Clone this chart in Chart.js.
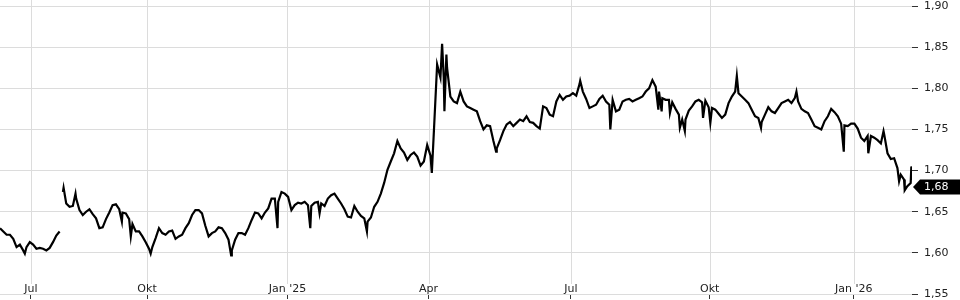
<!DOCTYPE html>
<html>
<head>
<meta charset="utf-8">
<script src="https://cdn.jsdelivr.net/npm/chart.js@4"></script>
<style>
  html, body { margin: 0; padding: 0; background: #fff; }
  #wrap { width: 960px; height: 300px; position: relative; }
</style>
</head>
<body>
<div id="wrap"><canvas id="priceChart"></canvas></div>
<script>
// price samples, evenly spaced in time (index units)
const values = [
  1.630, 1.626, 1.622, 1.622, 1.617, 1.607, 1.610, 1.603, 1.607, 1.613,
  1.610, 1.605, 1.606, 1.605, 1.603, 1.606, 1.613, 1.621, 1.626, 1.674,
  1.660, 1.656, 1.657, 1.666, 1.652, 1.646, 1.650, 1.653, 1.647, 1.642,
  1.630, 1.631, 1.641, 1.649, 1.658, 1.659, 1.653, 1.649, 1.648, 1.641,
  1.635, 1.626, 1.626, 1.620, 1.613, 1.605, 1.607, 1.618,
  1.630, 1.624, 1.622, 1.626, 1.627, 1.617, 1.620, 1.622, 1.630, 1.636,
  1.646, 1.652, 1.652, 1.648, 1.633, 1.620, 1.624, 1.626, 1.631, 1.630,
  1.624, 1.616, 1.603, 1.616, 1.624, 1.624, 1.622, 1.630, 1.640, 1.649,
  1.648, 1.642, 1.649, 1.654, 1.666, 1.666, 1.662, 1.674, 1.672, 1.668,
  1.652, 1.658, 1.661, 1.660, 1.662, 1.658, 1.657, 1.661,
  1.662, 1.660, 1.657, 1.666, 1.670, 1.672, 1.666, 1.660, 1.653, 1.644,
  1.643, 1.657, 1.650, 1.645, 1.642, 1.638, 1.643, 1.656, 1.662, 1.672,
  1.685, 1.701, 1.711, 1.721, 1.736, 1.727, 1.722, 1.713, 1.719, 1.722,
  1.717, 1.706, 1.711, 1.731, 1.718, 1.746, 1.829, 1.813, 1.813, 1.825,
  1.790, 1.784, 1.782, 1.796, 1.784, 1.778, 1.776, 1.774,
  1.772, 1.760, 1.750, 1.755, 1.754, 1.736, 1.727, 1.737, 1.748, 1.756,
  1.759, 1.754, 1.758, 1.762, 1.760, 1.766, 1.759, 1.758, 1.754, 1.751,
  1.778, 1.776, 1.768, 1.766, 1.784, 1.792, 1.786, 1.790, 1.791, 1.794,
  1.791, 1.805, 1.796, 1.787, 1.776, 1.778, 1.780, 1.787, 1.791, 1.784,
  1.780, 1.786, 1.772, 1.774, 1.784, 1.786, 1.787, 1.784,
  1.786, 1.788, 1.790, 1.796, 1.800, 1.810, 1.802, 1.796, 1.788, 1.786,
  1.786, 1.783, 1.775, 1.768, 1.762, 1.762, 1.773, 1.778, 1.784, 1.786,
  1.783, 1.785, 1.777, 1.776, 1.774, 1.769, 1.764, 1.768, 1.782, 1.790,
  1.796, 1.794, 1.790, 1.786, 1.782, 1.774, 1.766, 1.764, 1.759, 1.768,
  1.777, 1.772, 1.770, 1.776, 1.782, 1.784, 1.786, 1.782,
  1.788, 1.784, 1.775, 1.772, 1.770, 1.762, 1.754, 1.752, 1.750, 1.760,
  1.766, 1.775, 1.771, 1.766, 1.757, 1.755, 1.754, 1.757, 1.757, 1.751,
  1.740, 1.736, 1.742, 1.742, 1.740, 1.737, 1.733, 1.744, 1.721, 1.714,
  1.715, 1.703, 1.695, 1.689, 1.681, 1.685, 1.680
];

// short intraday spikes between the regular samples: [index, value]
const spikes = [
  [7.5, 1.599], [19.2, 1.679], [22.8, 1.672], [36.8, 1.638], [39.5, 1.620], [45.5, 1.599],
  [69.8, 1.597], [83.8, 1.630], [93.7, 1.630],
  [96.5, 1.648], [110.8, 1.626], [130.4, 1.697], [133.5, 1.854], [134.2, 1.772], [134.8, 1.841],
  [149.8, 1.723], [175.2, 1.809], [184.3, 1.750],
  [198.8, 1.774], [199.8, 1.772], [202.3, 1.770], [205.3, 1.752], [206.8, 1.748],
  [212.3, 1.764], [214.5, 1.758], [222.5, 1.815], [229.8, 1.752],
  [240.5, 1.796], [254.8, 1.723], [262.2, 1.721], [266.8, 1.748],
  [271.5, 1.687], [273.2, 1.676], [275.2, 1.705]
];

// no quotes between these samples
const gapAfter = [18];

const tickPos = [9.3, 44.4, 86.8, 129.4, 172.4, 214.3, 257.8];
const tickLabels = ['Jul', 'Okt', "Jan '25", 'Apr', 'Jul', 'Okt', "Jan '26"];
const yTicks = [1.55, 1.60, 1.65, 1.70, 1.75, 1.80, 1.85, 1.90];

const fmt = v => v.toFixed(2).replace('.', ',');

let points = values.map((v, i) => ({ x: i, y: v }));
gapAfter.forEach(g => points.push({ x: g + 0.5, y: null }));
spikes.forEach(s => points.push({ x: s[0], y: s[1] }));
points.sort((a, b) => a.x - b.x);

const lastValue = values[values.length - 1];

// vertical grid lines stop above the month labels
const monthGrid = {
  id: 'monthGrid',
  beforeDatasetsDraw(chart) {
    const { ctx, chartArea, scales } = chart;
    ctx.save();
    ctx.strokeStyle = '#dcdcdc';
    ctx.lineWidth = 1;
    tickPos.forEach(t => {
      const px = Math.round(scales.x.getPixelForValue(t)) + 0.5;
      ctx.beginPath();
      ctx.moveTo(px, 0);
      ctx.lineTo(px, chartArea.bottom - 10);
      ctx.stroke();
    });
    ctx.restore();
  }
};

// black price tag for the last value on the right axis
const lastTag = {
  id: 'lastTag',
  afterDraw(chart) {
    const { ctx, chartArea, scales } = chart;
    const y = scales.y.getPixelForValue(lastValue);
    const r = chartArea.right;
    ctx.save();
    ctx.fillStyle = '#000';
    ctx.beginPath();
    ctx.moveTo(r + 1, y);
    ctx.lineTo(r + 8, y - 7.5);
    ctx.lineTo(chart.width, y - 7.5);
    ctx.lineTo(chart.width, y + 7.5);
    ctx.lineTo(r + 8, y + 7.5);
    ctx.closePath();
    ctx.fill();
    ctx.fillStyle = '#fff';
    ctx.font = '11px "DejaVu Sans"';
    ctx.textBaseline = 'middle';
    ctx.textAlign = 'left';
    ctx.fillText(fmt(lastValue), r + 12, y + 0.5);
    ctx.restore();
  }
};

Chart.defaults.font.family = '"DejaVu Sans"';
Chart.defaults.font.size = 11;
Chart.defaults.color = '#222';

new Chart(document.getElementById('priceChart'), {
  type: 'line',
  data: {
    datasets: [{
      data: points,
      borderColor: '#000',
      borderWidth: 2.2,
      pointRadius: 0,
      tension: 0,
      spanGaps: false
    }]
  },
  options: {
    responsive: true,
    maintainAspectRatio: false,
    animation: false,
    layout: { padding: { top: 0, right: 5.5, bottom: 6, left: 0 } },
    plugins: { legend: { display: false }, tooltip: { enabled: false } },
    scales: {
      x: {
        type: 'linear',
        min: 0,
        max: 275.4,
        afterBuildTicks: axis => { axis.ticks = tickPos.map(v => ({ value: v })); },
        grid: { drawOnChartArea: false, drawTicks: true, tickLength: 5, tickColor: '#333' },
        border: { display: false },
        ticks: {
          autoSkip: false,
          maxRotation: 0,
          padding: -16,
          color: '#222',
          callback: (v, i) => tickLabels[i]
        }
      },
      y: {
        position: 'right',
        min: 1.55,
        max: 1.90,
        afterBuildTicks: axis => { axis.ticks = yTicks.map(v => ({ value: v })); },
        grid: { color: '#dcdcdc', tickColor: '#333', tickLength: 6 },
        border: { display: false },
        ticks: {
          padding: 6,
          color: '#222',
          font: { size: 11, lineHeight: 0 },
          callback: v => fmt(v)
        }
      }
    }
  },
  plugins: [monthGrid, lastTag]
});
</script>
</body>
</html>
